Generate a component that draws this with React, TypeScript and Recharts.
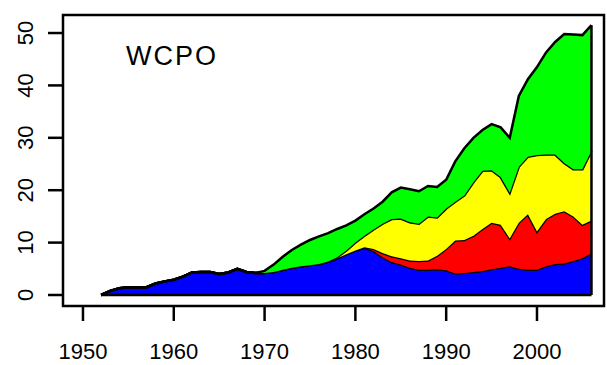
import { Area, AreaChart, ReferenceArea, ReferenceLine, XAxis, YAxis } from "recharts"

const years = Array.from({ length: 55 }, (_, i) => 1952 + i)

// catch by component (stacked bottom to top)
const blue = [
  0, 0.8, 1.3, 1.5, 1.5, 1.5, 2.2, 2.6, 2.9, 3.5, 4.3, 4.4, 4.4, 4.0, 4.3, 5.0, 4.4, 4.2,
  4.2, 4.4, 4.8, 5.2, 5.5, 5.7, 5.9, 6.4, 7.0, 7.8, 8.5, 9.0, 8.4, 7.2, 6.3, 5.8, 5.2, 4.8,
  4.8, 4.9, 4.7, 4.1, 4.2, 4.4, 4.6, 4.9, 5.2, 5.5, 5.0, 4.8, 4.8, 5.5, 5.9, 6.0, 6.5, 7.0, 8.0,
]
const red = [
  0, 0, 0, 0, 0, 0, 0, 0, 0, 0, 0, 0, 0, 0, 0, 0, 0, 0,
  0, 0, 0, 0, 0, 0, 0, 0, 0, 0, 0, 0.1, 0.4, 0.8, 1.1, 1.2, 1.4, 1.7,
  1.8, 2.6, 4.1, 6.3, 6.3, 6.9, 8.0, 8.9, 8.2, 5.3, 8.8, 10.6, 7.3, 9.0, 9.6, 10.0, 8.5, 6.4, 6.2,
]
const yellow = [
  0, 0, 0, 0, 0, 0, 0, 0, 0, 0, 0, 0, 0, 0, 0, 0, 0, 0,
  0, 0, 0, 0, 0, 0, 0, 0, 0.2, 0.7, 1.5, 2.2, 3.7, 5.6, 7.1, 7.6, 7.3, 7.1,
  8.4, 7.3, 7.7, 7.4, 8.5, 10.2, 11.1, 10.0, 9.1, 8.7, 10.7, 11.0, 14.6, 12.3, 11.3, 9.2, 9.0, 10.6, 13.3,
]
const green = [
  0, 0, 0, 0, 0, 0, 0, 0, 0, 0, 0, 0, 0, 0, 0, 0, 0, 0,
  0.4, 1.4, 2.5, 3.4, 4.1, 4.8, 5.3, 5.4, 5.4, 4.8, 4.2, 4.1, 4.0, 4.2, 5.1, 5.9, 6.3, 6.2,
  5.8, 5.8, 5.5, 7.7, 9.0, 8.5, 7.8, 8.8, 9.5, 10.5, 13.5, 14.8, 16.8, 19.5, 21.5, 24.6, 25.7, 25.6, 24.0,
]

const xTicks = [1950, 1960, 1970, 1980, 1990, 2000]
const yTicks = [0, 10, 20, 30, 40, 50]

const data = years.map((year, i) => ({
  year,
  blue: blue[i],
  red: red[i],
  yellow: yellow[i],
  green: green[i],
}))

const last = years.length - 1
const lastTotal = blue[last] + red[last] + yellow[last] + green[last]

const font = "'Liberation Sans', Arial, sans-serif"
const lw = 2.5

function XTick(props: any) {
  const { x, y, payload } = props
  return (
    <text x={x} y={y + 38} textAnchor="middle" fontSize={22} fontFamily={font} fill="#000">
      {payload.value}
    </text>
  )
}

function YTick(props: any) {
  const { x, y, payload } = props
  const cx = x - 22
  return (
    <text
      x={cx}
      y={y}
      transform={`rotate(-90, ${cx}, ${y})`}
      textAnchor="middle"
      dominantBaseline="central"
      fontSize={22}
      fontFamily={font}
      fill="#000"
    >
      {payload.value}
    </text>
  )
}

export default function App() {
  return (
    <div style={{ position: "absolute", left: 0, top: 0, width: 607, height: 365, background: "#fff" }}>
      <AreaChart width={607} height={365} data={data} margin={{ top: 15, right: 3, bottom: 0, left: 0 }}>
        <XAxis
          dataKey="year"
          type="number"
          domain={[1947.8, 2007.38]}
          allowDataOverflow
          ticks={xTicks}
          height={59}
          axisLine={false}
          tickSize={15}
          tickMargin={0}
          tickLine={{ stroke: "#000", strokeWidth: lw }}
          tick={<XTick />}
          interval={0}
        />
        <YAxis
          type="number"
          domain={[-2.1, 53.44]}
          allowDataOverflow
          ticks={yTicks}
          width={63}
          axisLine={false}
          tickSize={15}
          tickMargin={0}
          tickLine={{ stroke: "#000", strokeWidth: lw }}
          tick={<YTick />}
          interval={0}
        />
        <Area type="linear" dataKey="blue" stackId="a" stroke="#000" strokeWidth={lw} fill="#0000ff" fillOpacity={1} isAnimationActive={false} />
        <Area type="linear" dataKey="red" stackId="a" stroke="#000" strokeWidth={lw} fill="#ff0000" fillOpacity={1} isAnimationActive={false} />
        <Area type="linear" dataKey="yellow" stackId="a" stroke="#000" strokeWidth={lw} fill="#ffff00" fillOpacity={1} isAnimationActive={false} />
        <Area type="linear" dataKey="green" stackId="a" stroke="#000" strokeWidth={lw} fill="#00ff00" fillOpacity={1} isAnimationActive={false} />
        <ReferenceLine
          segment={[{ x: years[0], y: 0 }, { x: years[last], y: 0 }]}
          stroke="#000"
          strokeWidth={lw}
        />
        <ReferenceLine
          segment={[{ x: years[last], y: 0 }, { x: years[last], y: lastTotal }]}
          stroke="#000"
          strokeWidth={lw}
        />
        <ReferenceArea x1={1947.8} x2={2007.38} y1={-2.1} y2={53.44} fill="none" stroke="#000" strokeWidth={lw} ifOverflow="visible" />
      </AreaChart>
      <svg width={607} height={365} style={{ position: "absolute", left: 0, top: 0, pointerEvents: "none" }}>
        <text x={126} y={65} fontSize={27} letterSpacing={2} fontFamily={font} fill="#000">
          WCPO
        </text>
      </svg>
    </div>
  )
}
